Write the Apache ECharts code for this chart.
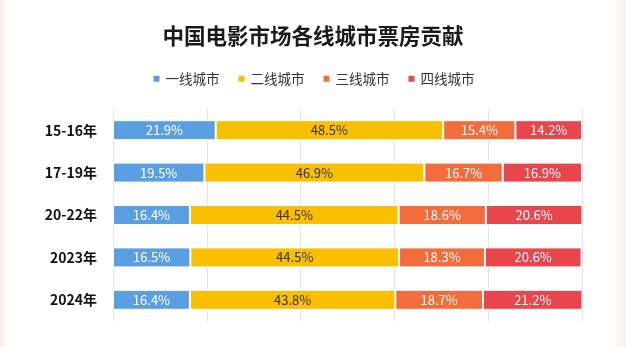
<!DOCTYPE html>
<html><head><meta charset="utf-8">
<script src="https://cdn.jsdelivr.net/npm/echarts@6/dist/echarts.min.js"></script>
<style>html,body{margin:0;padding:0;background:#fff;}#c{width:626px;height:347px;}</style>
</head><body><div id="c"></div>
<script>
const categories = ['15-16年','17-19年','20-22年','2023年','2024年'];
const tier1 = [21.9, 19.5, 16.4, 16.5, 16.4];
const tier2 = [48.5, 46.9, 44.5, 44.5, 43.8];
const tier3 = [15.4, 16.7, 18.6, 18.3, 18.7];
const tier4 = [14.2, 16.9, 20.6, 20.6, 21.2];
const seriesNames = ['一线城市','二线城市','三线城市','四线城市'];
const colors = ['#5a9fe2','#f9bf00','#f26c3c','#e9454d'];
const labelColors = ['#fff','#333','#fff','#fff'];
const font = '"Noto Sans CJK SC", "Noto Sans", sans-serif';
const chart = echarts.init(document.getElementById('c'));
const datas = [tier1, tier2, tier3, tier4];
chart.setOption({
  backgroundColor: '#fff',
  animation: false,
  graphic: [
    {type:'rect', shape:{x:0,y:0,width:8,height:347}, style:{fill:new echarts.graphic.LinearGradient(0,0,1,0,[{offset:0,color:'#fbe9e6'},{offset:1,color:'#fff'}])}, z:-1},
    {type:'rect', shape:{x:612,y:0,width:14,height:347}, style:{fill:new echarts.graphic.LinearGradient(0,0,1,0,[{offset:0,color:'#fff'},{offset:1,color:'#fcefec'}])}, z:-1}
  ],
  title: {
    text: '中国电影市场各线城市票房贡献',
    left: 'center', top: 20,
    textStyle: {fontFamily: font, fontSize: 21.5, fontWeight: 'bold', color: '#1a1a1a'}
  },
  legend: {
    top: 67, left: 'center',
    itemWidth: 8, itemHeight: 8, itemGap: 17,
    icon: 'rect',
    textStyle: {fontFamily: font, fontSize: 13.5, color: '#333'},
    data: seriesNames
  },
  grid: {left: 113, right: 44, top: 109, height: 212, containLabel: false},
  xAxis: {
    type: 'value', min: 0, max: 100, interval: 20,
    axisLabel: {show: false}, axisLine: {show: false}, axisTick: {show: false},
    splitLine: {show: true, lineStyle: {color: '#e4e4e4', width: 1}}
  },
  yAxis: {
    type: 'category', inverse: true, data: categories,
    axisLine: {show: false}, axisTick: {show: false},
    axisLabel: {fontFamily: font, fontSize: 14, fontWeight: 'bold', color: '#111', margin: 16}
  },
  series: datas.map((d, i) => ({
    name: seriesNames[i], type: 'bar', stack: 'total', barWidth: 20,
    data: d,
    itemStyle: {color: colors[i], borderColor: '#fff', borderWidth: 1},
    label: {show: true, position: 'inside', formatter: p => p.value.toFixed(1) + '%',
      fontFamily: font, fontSize: 13, color: labelColors[i]}
  }))
});
</script></body></html>
